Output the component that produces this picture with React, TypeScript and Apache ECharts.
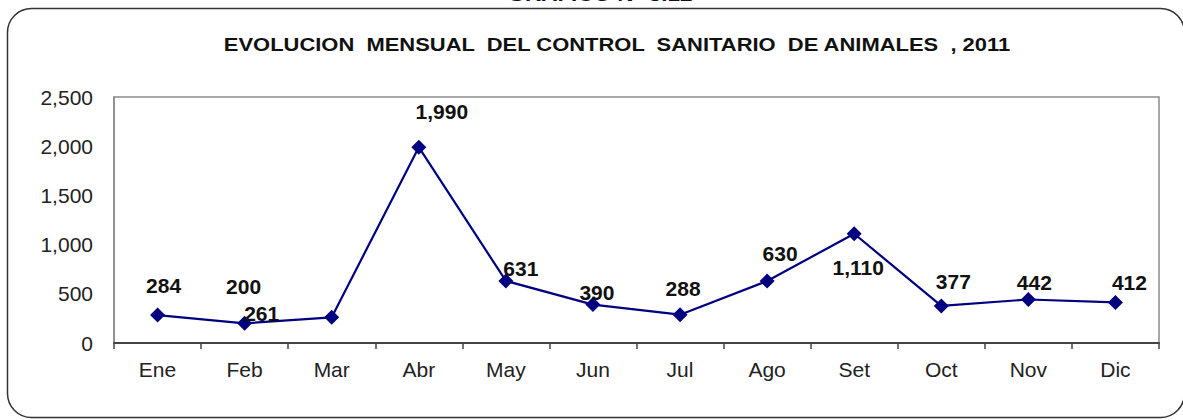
import React, { useEffect, useRef } from "react";
import * as echarts from "echarts";

const months = ["Ene", "Feb", "Mar", "Abr", "May", "Jun", "Jul", "Ago", "Set", "Oct", "Nov", "Dic"];
const values = [284, 200, 261, 1990, 631, 390, 288, 630, 1110, 377, 442, 412];
const yTicks = [0, 500, 1000, 1500, 2000, 2500];
const chartTitle = "EVOLUCION  MENSUAL  DEL CONTROL  SANITARIO  DE ANIMALES  , 2011";
const topCaption = "GRAFICO N° 3.12";

// label placement (layout only, offsets from each marker)
const LABEL_OFFSETS: [number, number][] = [
  [6, -30], [-1, -37], [-70, -4], [23, -36], [15, -12], [4, -12],
  [3, -26], [13, -28], [4, 34], [12, -24], [6, -17], [14, -20],
];

const fmt = (v: number) => v.toLocaleString("en-US");

export default function App() {
  const ref = useRef<HTMLDivElement>(null);
  useEffect(() => {
    if (!ref.current) return;
    const chart = echarts.init(ref.current, null, { renderer: "svg" });
    const font = "'Liberation Sans', Arial, sans-serif";
    chart.setOption({
      animation: false,
      backgroundColor: "#ffffff",
      textStyle: { fontFamily: font },
      grid: {
        left: 114,
        right: 24,
        top: 97,
        bottom: 77,
        show: true,
        borderColor: "#8a8a8a",
        borderWidth: 1.5,
      },
      graphic: [
        {
          type: "rect",
          shape: { x: 7.5, y: 8.5, width: 1177, height: 409, r: 24 },
          style: { fill: "none", stroke: "#333", lineWidth: 1.5 },
        },
        {
          type: "text",
          x: 600,
          y: 4,
          scaleX: 1.25,
          style: {
            text: topCaption,
            font: `bold 18px ${font}`,
            fill: "#111",
            align: "center",
            verticalAlign: "bottom",
          },
        },
        {
          type: "text",
          x: 617,
          y: 45,
          scaleX: 1.22,
          style: {
            text: chartTitle,
            font: `bold 18px ${font}`,
            fill: "#111",
            align: "center",
            verticalAlign: "middle",
          },
        },
      ],
      xAxis: {
        type: "category",
        data: months,
        boundaryGap: true,
        axisLine: { lineStyle: { color: "#444", width: 2 } },
        axisTick: { show: true, length: 6, lineStyle: { color: "#444", width: 1.5 } },
        axisLabel: { color: "#222", fontSize: 21, margin: 16, fontFamily: font },
        splitLine: { show: false },
      },
      yAxis: {
        type: "value",
        min: yTicks[0],
        max: yTicks[yTicks.length - 1],
        interval: 500,
        axisLine: { show: true, lineStyle: { color: "#8a8a8a", width: 1.5 } },
        axisTick: { show: false },
        splitLine: { show: false },
        axisLabel: {
          color: "#222",
          fontSize: 21,
          margin: 21,
          fontFamily: font,
          formatter: (v: number) => fmt(v),
        },
      },
      series: [
        {
          type: "line",
          data: values.map((v, i) => ({
            value: v,
            label: { offset: LABEL_OFFSETS[i] },
          })),
          symbol: "diamond",
          symbolSize: 15,
          itemStyle: { color: "#000080" },
          lineStyle: { color: "#000080", width: 2.2 },
          label: {
            show: true,
            position: "inside",
            fontSize: 21,
            fontWeight: "bold",
            color: "#111",
            fontFamily: font,
            formatter: (p: any) => fmt(p.value),
          },
          z: 5,
        },
      ],
    });
    return () => chart.dispose();
  }, []);
  return <div ref={ref} style={{ width: 1183, height: 420, position: "absolute", left: 0, top: 0 }} />;
}
